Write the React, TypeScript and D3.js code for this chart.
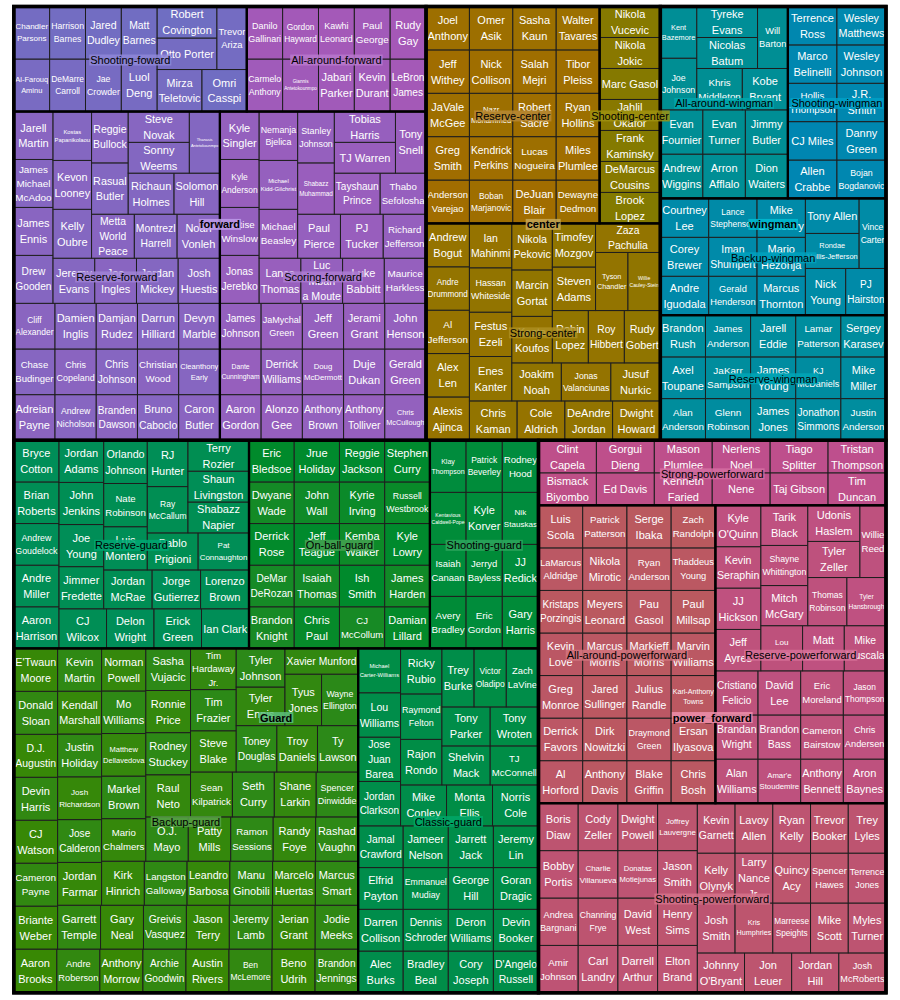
import { useMemo } from "react";
import * as d3 from "d3";

// ---- players per position / role (every player counts as 1) ----
const shootingFoward = ["Al-Farouq Aminu", "Chandler Parsons", "DeMarre Carroll", "Harrison Barnes", "Jae Crowder", "Jared Dudley", "Luol Deng", "Matt Barnes", "Mirza Teletovic", "Omri Casspi", "Otto Porter", "Robert Covington", "Trevor Ariza"];
const allAroundForward = ["Carmelo Anthony", "Danilo Gallinari", "Giannis Antetokounmpo", "Gordon Hayward", "Jabari Parker", "Kawhi Leonard", "Kevin Durant", "LeBron James", "Paul George", "Rudy Gay"];
const reserveForward = ["Adreian Payne", "Andrew Nicholson", "Branden Dawson", "Bruno Caboclo", "Caron Butler", "Chase Budinger", "Chris Copeland", "Chris Johnson", "Christian Wood", "Cleanthony Early", "Cliff Alexander", "Damien Inglis", "Damjan Rudez", "Darrun Hilliard", "Devyn Marble", "Drew Gooden", "James Ennis", "James Michael McAdoo", "Jarell Martin", "Jeremy Evans", "Joe Ingles", "Jordan Mickey", "Josh Huestis", "Kelly Oubre", "Kevon Looney", "Kostas Papanikolaou", "Metta World Peace", "Montrezl Harrell", "Noah Vonleh", "Rasual Butler", "Reggie Bullock", "Richaun Holmes", "Solomon Hill", "Sonny Weems", "Steve Novak", "Thanasis Antetokounmpo"];
const scoringForward = ["Aaron Gordon", "Alonzo Gee", "Anthony Brown", "Anthony Tolliver", "Chris McCullough", "Dante Cunningham", "Derrick Williams", "Doug McDermott", "Duje Dukan", "Gerald Green", "James Johnson", "JaMychal Green", "Jeff Green", "Jerami Grant", "John Henson", "Jonas Jerebko", "Justise Winslow", "Kyle Anderson", "Kyle Singler", "Lance Thomas", "Luc Mbah a Moute", "Luke Babbitt", "Maurice Harkless", "Michael Beasley", "Michael Kidd-Gilchrist", "Nemanja Bjelica", "Paul Pierce", "PJ Tucker", "Richard Jefferson", "Shabazz Muhammad", "Stanley Johnson", "Tayshaun Prince", "Thabo Sefolosha", "TJ Warren", "Tobias Harris", "Tony Snell"];

const reserveCenter = ["Anderson Varejao", "Boban Marjanovic", "DeJuan Blair", "Dewayne Dedmon", "Greg Smith", "JaVale McGee", "Jeff Withey", "Joel Anthony", "Kendrick Perkins", "Lucas Nogueira", "Miles Plumlee", "Nazr Mohammed", "Nick Collison", "Omer Asik", "Robert Sacre", "Ryan Hollins", "Salah Mejri", "Sasha Kaun", "Tibor Pleiss", "Walter Tavares"];
const shootingCenter = ["Brook Lopez", "DeMarcus Cousins", "Frank Kaminsky", "Jahlil Okafor", "Marc Gasol", "Nikola Jokic", "Nikola Vucevic"];
const strongCenter = ["Al Jefferson", "Alex Len", "Alexis Ajinca", "Andre Drummond", "Andrew Bogut", "Chris Kaman", "Cole Aldrich", "DeAndre Jordan", "Dwight Howard", "Enes Kanter", "Festus Ezeli", "Hassan Whiteside", "Ian Mahinmi", "Joakim Noah", "Jonas Valanciunas", "Jusuf Nurkic", "Kosta Koufos", "Marcin Gortat", "Nikola Pekovic", "Robin Lopez", "Roy Hibbert", "Rudy Gobert", "Steven Adams", "Timofey Mozgov", "Tyson Chandler", "Willie Cauley-Stein", "Zaza Pachulia"];

const allAroundWingman = ["Andrew Wiggins", "Arron Afflalo", "Dion Waiters", "Evan Fournier", "Evan Turner", "Jimmy Butler", "Joe Johnson", "Kent Bazemore", "Khris Middleton", "Kobe Bryant", "Nicolas Batum", "Tyreke Evans", "Will Barton"];
const shootingWingman = ["Allen Crabbe", "Bojan Bogdanovic", "CJ Miles", "Danny Green", "Hollis Thompson", "J.R. Smith", "Marco Belinelli", "Terrence Ross", "Wesley Johnson", "Wesley Matthews"];
const backupWingman = ["Andre Iguodala", "Corey Brewer", "Courtney Lee", "Gerald Henderson", "Iman Shumpert", "Lance Stephenson", "Marcus Thornton", "Mario Hezonja", "Mike Dunleavy", "Nick Young", "PJ Hairston", "Rondae Hollis-Jefferson", "Tony Allen", "Vince Carter"];
const reserveWingman = ["Alan Anderson", "Axel Toupane", "Brandon Rush", "Glenn Robinson", "JaKarr Sampson", "James Anderson", "James Jones", "James Young", "Jarell Eddie", "Jonathon Simmons", "Justin Anderson", "KJ McDaniels", "Lamar Patterson", "Mike Miller", "Sergey Karasev"];

const reserveGuard = ["Aaron Harrison", "Andre Miller", "Andrew Goudelock", "Brian Roberts", "Bryce Cotton", "CJ Wilcox", "Delon Wright", "Erick Green", "Ian Clark", "Jimmer Fredette", "Joe Young", "John Jenkins", "Jordan Adams", "Jordan McRae", "Jorge Gutierrez", "Lorenzo Brown", "Luis Montero", "Nate Robinson", "Orlando Johnson", "Pablo Prigioni", "Pat Connaughton", "Ray McCallum", "RJ Hunter", "Shabazz Napier", "Shaun Livingston", "Terry Rozier"];
const onBallGuard = ["Brandon Knight", "Chris Paul", "CJ McCollum", "Damian Lillard", "DeMar DeRozan", "Derrick Rose", "Dwyane Wade", "Eric Bledsoe", "Isaiah Thomas", "Ish Smith", "James Harden", "Jeff Teague", "John Wall", "Jrue Holiday", "Kemba Walker", "Kyle Lowry", "Kyrie Irving", "Reggie Jackson", "Russell Westbrook", "Stephen Curry"];
const shootingGuard = ["Avery Bradley", "Eric Gordon", "Gary Harris", "Isaiah Canaan", "Jerryd Bayless", "JJ Redick", "Kentavious Caldwell-Pope", "Klay Thompson", "Kyle Korver", "Nik Stauskas", "Patrick Beverley", "Rodney Hood"];
const backupGuard = ["Aaron Brooks", "Andre Roberson", "Anthony Morrow", "Archie Goodwin", "Austin Rivers", "Ben McLemore", "Beno Udrih", "Brandon Jennings", "Briante Weber", "Cameron Payne", "CJ Watson", "Devin Harris", "D.J. Augustin", "Donald Sloan", "E'Twaun Moore", "Garrett Temple", "Gary Neal", "Greivis Vasquez", "Jason Terry", "Jeremy Lamb", "Jerian Grant", "Jodie Meeks", "Jordan Farmar", "Jose Calderon", "Josh Richardson", "Justin Holiday", "Kendall Marshall", "Kevin Martin", "Kirk Hinrich", "Langston Galloway", "Leandro Barbosa", "Manu Ginobili", "Marcelo Huertas", "Marcus Smart", "Mario Chalmers", "Markel Brown", "Matthew Dellavedova", "Mo Williams", "Norman Powell", "O.J. Mayo", "Patty Mills", "Ramon Sessions", "Randy Foye", "Rashad Vaughn", "Raul Neto", "Rodney Stuckey", "Ronnie Price", "Sasha Vujacic", "Sean Kilpatrick", "Seth Curry", "Shane Larkin", "Spencer Dinwiddie", "Steve Blake", "Tim Frazier", "Tim Hardaway Jr.", "Toney Douglas", "Troy Daniels", "Ty Lawson", "Tyler Ennis", "Tyler Johnson", "Tyus Jones", "Wayne Ellington", "Xavier Munford"];
const classicGuard = ["Alec Burks", "Bradley Beal", "Cory Joseph", "D'Angelo Russell", "Darren Collison", "Dennis Schroder", "Deron Williams", "Devin Booker", "Elfrid Payton", "Emmanuel Mudiay", "George Hill", "Goran Dragic", "Jamal Crawford", "Jameer Nelson", "Jarrett Jack", "Jeremy Lin", "Jordan Clarkson", "Jose Juan Barea", "Lou Williams", "Michael Carter-Williams", "Mike Conley", "Monta Ellis", "Norris Cole", "Rajon Rondo", "Raymond Felton", "Ricky Rubio", "Shelvin Mack", "TJ McConnell", "Tony Parker", "Tony Wroten", "Trey Burke", "Victor Oladipo", "Zach LaVine"];

const strongPowerforward = ["Bismack Biyombo", "Clint Capela", "Ed Davis", "Gorgui Dieng", "Kenneth Faried", "Mason Plumlee", "Nene", "Nerlens Noel", "Taj Gibson", "Tiago Splitter", "Tim Duncan", "Tristan Thompson"];
const allAroundPowerforward = ["Al Horford", "Anthony Davis", "Blake Griffin", "Chris Bosh", "Derrick Favors", "Dirk Nowitzki", "Draymond Green", "Ersan Ilyasova", "Greg Monroe", "Jared Sullinger", "Julius Randle", "Karl-Anthony Towns", "Kevin Love", "Kristaps Porzingis", "LaMarcus Aldridge", "Luis Scola", "Marcus Morris", "Markieff Morris", "Marvin Williams", "Meyers Leonard", "Nikola Mirotic", "Patrick Patterson", "Pau Gasol", "Paul Millsap", "Ryan Anderson", "Serge Ibaka", "Thaddeus Young", "Zach Randolph"];
const reservePowerforward = ["Alan Williams", "Amar'e Stoudemire", "Anthony Bennett", "Aron Baynes", "Brandan Wright", "Brandon Bass", "Cameron Bairstow", "Chris Andersen", "Cristiano Felicio", "David Lee", "Eric Moreland", "Jason Thompson", "Jeff Ayres", "JJ Hickson", "Kevin Seraphin", "Kyle O'Quinn", "Lou Amundson", "Matt Bonner", "Mike Muscala", "Mitch McGary", "Shayne Whittington", "Tarik Black", "Thomas Robinson", "Tyler Hansbrough", "Tyler Zeller", "Udonis Haslem", "Willie Reed"];
const shootingPowerforward = ["Amir Johnson", "Andrea Bargnani", "Bobby Portis", "Boris Diaw", "Carl Landry", "Channing Frye", "Charlie Villanueva", "Cody Zeller", "Darrell Arthur", "David West", "Donatas Motiejunas", "Dwight Powell", "Elton Brand", "Henry Sims", "Jason Smith", "Joffrey Lauvergne", "Johnny O'Bryant", "Jon Leuer", "Jordan Hill", "Josh McRoberts", "Josh Smith", "Kelly Olynyk", "Kevin Garnett", "Kris Humphries", "Larry Nance Jr.", "Lavoy Allen", "Marreese Speights", "Mike Scott", "Myles Turner", "Quincy Acy", "Ryan Kelly", "Spencer Hawes", "Terrence Jones", "Trevor Booker", "Trey Lyles"];

const positions = ["forward", "center", "wingman", "Guard", "power_forward"];
const rolesByPosition: Record<string, [string, string[]][]> = {
  forward: [["Shooting-foward", shootingFoward], ["All-around-forward", allAroundForward], ["Reserve-forward", reserveForward], ["Scoring-forward", scoringForward]],
  center: [["Reserve-center", reserveCenter], ["Shooting-center", shootingCenter], ["Strong-center", strongCenter]],
  wingman: [["All-around-wingman", allAroundWingman], ["Shooting-wingman", shootingWingman], ["Backup-wingman", backupWingman], ["Reserve-wingman", reserveWingman]],
  Guard: [["Reserve-guard", reserveGuard], ["On-ball-guard", onBallGuard], ["Shooting-guard", shootingGuard], ["Backup-guard", backupGuard], ["Classic-guard", classicGuard]],
  power_forward: [["Strong-powerforward", strongPowerforward], ["All-around-powerforward", allAroundPowerforward], ["Reserve-powerforward", reservePowerforward], ["Shooting-powerforward", shootingPowerforward]],
};

const FONT = "'Liberation Sans', Arial, Helvetica, sans-serif";
const BASE = 11;
const LINE = 1.45;
// plotting frame of the treemap
const X0 = 13.8;
const Y0 = 6.5;
const TW = 872.2;
const TH = 986.3;

type TNode = { name: string; children?: TNode[] };

const sortKey = (s: string) => s.toLowerCase().replace(/[^a-z]/g, "");

// polar LUV -> sRGB hex
function hclLuv(h: number, c: number, l: number) {
  const XN = 95.047, YN = 100, ZN = 108.883;
  const den = XN + 15 * YN + 3 * ZN;
  const un = (4 * XN) / den;
  const vn = (9 * YN) / den;
  const rad = (h * Math.PI) / 180;
  const Y = l > 8 ? YN * Math.pow((l + 16) / 116, 3) : (YN * l) / 903.3;
  const u = (c * Math.cos(rad)) / (13 * l) + un;
  const v = (c * Math.sin(rad)) / (13 * l) + vn;
  const X = (9 * Y * u) / (4 * v);
  const Z = -X / 3 - 5 * Y + (3 * Y) / v;
  const lin = [
    (3.240479 * X - 1.53715 * Y - 0.498535 * Z) / 100,
    (-0.969256 * X + 1.875992 * Y + 0.041556 * Z) / 100,
    (0.055648 * X - 0.204043 * Y + 1.057311 * Z) / 100,
  ];
  const gam = (t: number) => {
    const x = Math.min(1, Math.max(0, t));
    return x > 0.0031308 ? 1.055 * Math.pow(x, 1 / 2.4) - 0.055 : 12.92 * x;
  };
  return d3.rgb(gam(lin[0]) * 255, gam(lin[1]) * 255, gam(lin[2]) * 255).formatHex();
}

// interleaved hue slots (1,3,5,2,4 style)
function spreadSlots(n: number) {
  const half = Math.ceil(n / 2);
  return d3.range(n).map((i) => (i % 2 === 0 ? i / 2 : half + (i - 1) / 2));
}

let ctx: CanvasRenderingContext2D | null = null;
function textWidth(s: string, size: number, bold = false) {
  if (!ctx) ctx = document.createElement("canvas").getContext("2d");
  ctx!.font = `${bold ? "bold " : ""}100px ${FONT}`;
  return (ctx!.measureText(s).width * size) / 100;
}

function fitLabel(name: string, w: number, h: number) {
  const words = name.split(" ");
  const n = words.length;
  let best = { lines: [name], size: 0 };
  for (let mask = 0; mask < 1 << (n - 1); mask++) {
    const lines: string[] = [];
    let cur = words[0];
    for (let i = 1; i < n; i++) {
      if (mask & (1 << (i - 1))) {
        lines.push(cur);
        cur = words[i];
      } else cur += " " + words[i];
    }
    lines.push(cur);
    const maxW = Math.max(...lines.map((l) => textWidth(l, 1)));
    const size = Math.min(BASE, (w - 3) / maxW, (h - 3) / ((lines.length - 1) * LINE + 1.05));
    if (size > best.size + 0.01 || (Math.abs(size - best.size) <= 0.01 && lines.length < best.lines.length)) {
      best = { lines, size };
    }
  }
  return best;
}

export default function App() {
  const layout = useMemo(() => {
    const tree: TNode = {
      name: "root",
      children: positions.map((p) => ({
        name: p,
        children: rolesByPosition[p].map(([r, players]) => ({
          name: r,
          children: players.map((name) => ({ name })),
        })),
      })),
    };

    // HCL palette: hue ranges split per level
    const hue = new Map<TNode, number>();
    const assign = (nodes: TNode[], lb: number, ub: number, rev: boolean) => {
      const sorted = [...nodes].sort((a, b) => d3.ascending(sortKey(a.name), sortKey(b.name)));
      const n = sorted.length;
      const w = (ub - lb) / n;
      const slots = spreadSlots(n);
      sorted.forEach((node, i) => {
        const slot = rev ? n - 1 - slots[i] : slots[i];
        const mid = lb + (slot + 0.5) * w;
        hue.set(node, mid);
        if (node.children) assign(node.children, mid - w / 4, mid + w / 4, i % 2 === 1);
      });
    };
    assign(tree.children!, 30, 390, false);

    const root = d3
      .hierarchy<TNode>(tree)
      .count()
      .sort((a, b) => b.value! - a.value! || d3.ascending(sortKey(a.data.name), sortKey(b.data.name)));

    d3.treemap<TNode>().tile(d3.treemapSquarify.ratio(1)).size([TW, TH])(root);

    // the first strip sits at the bottom, so flip y
    const box = (d: d3.HierarchyRectangularNode<TNode>) => ({
      x: X0 + d.x0,
      y: Y0 + TH - d.y1,
      w: d.x1 - d.x0,
      h: d.y1 - d.y0,
    });

    const rootR = root as d3.HierarchyRectangularNode<TNode>;
    const leaves = rootR.leaves().map((d) => {
      const b = box(d);
      return { ...b, name: d.data.name, fill: hclLuv(hue.get(d.data)!, 70, 50), label: fitLabel(d.data.name, b.w, b.h) };
    });
    const roles = rootR.descendants().filter((d) => d.depth === 2).map((d) => ({
      ...box(d),
      name: d.data.name,
      bg: hclLuv(hue.get(d.data)!, 65, 60),
      tw: textWidth(d.data.name, BASE),
    }));
    const groups = rootR.descendants().filter((d) => d.depth === 1).map((d) => ({
      ...box(d),
      name: d.data.name,
      bg: hclLuv(hue.get(d.data)!, 60, 70),
      tw: textWidth(d.data.name, BASE, true),
    }));
    return { leaves, roles, groups };
  }, []);

  return (
    <svg width={900} height={1000} style={{ position: "absolute", left: 0, top: 0 }} fontFamily={FONT}>
      <rect width={900} height={1000} fill="#ffffff" />
      <g>
        {layout.leaves.map((d) => (
          <rect key={d.name} x={d.x} y={d.y} width={d.w} height={d.h} fill={d.fill} stroke="#1e1e1e" strokeWidth={1} />
        ))}
      </g>
      <g fill="#ffffff" textAnchor="middle">
        {layout.leaves.map((d) => {
          const { lines, size } = d.label;
          const cx = d.x + d.w / 2;
          const cy = d.y + d.h / 2;
          return (
            <text key={d.name} fontSize={size}>
              {lines.map((l, i) => (
                <tspan key={i} x={cx} y={cy + (i - (lines.length - 1) / 2) * LINE * size} dominantBaseline="central">
                  {l}
                </tspan>
              ))}
            </text>
          );
        })}
      </g>
      <g fill="none" stroke="#000">
        {layout.roles.map((d) => (
          <rect key={d.name} x={d.x} y={d.y} width={d.w} height={d.h} strokeWidth={2.2} />
        ))}
        {layout.groups.map((d) => (
          <rect key={d.name} x={d.x} y={d.y} width={d.w} height={d.h} strokeWidth={3.4} />
        ))}
        <rect x={X0} y={Y0} width={TW} height={TH} strokeWidth={3.4} />
      </g>
      <g textAnchor="middle" fontSize={BASE}>
        {layout.roles.map((d) => {
          const cx = d.x + d.w / 2;
          const cy = d.y + d.h / 2 + 1;
          return (
            <g key={d.name}>
              <rect x={cx - d.tw / 2 - 1} y={cy - 5.5} width={d.tw + 2} height={11} fill={d.bg} fillOpacity={0.86} />
              <text x={cx} y={cy} dominantBaseline="central" fill="#000">{d.name}</text>
            </g>
          );
        })}
        {layout.groups.map((d) => {
          const cx = d.x + d.w / 2;
          const cy = d.y + d.h / 2 + 1;
          return (
            <g key={d.name}>
              <rect x={cx - d.tw / 2 - 1} y={cy - 5.5} width={d.tw + 2} height={11} fill={d.bg} fillOpacity={0.86} />
              <text x={cx} y={cy} dominantBaseline="central" fill="#000" fontWeight="bold">{d.name}</text>
            </g>
          );
        })}
      </g>
    </svg>
  );
}
